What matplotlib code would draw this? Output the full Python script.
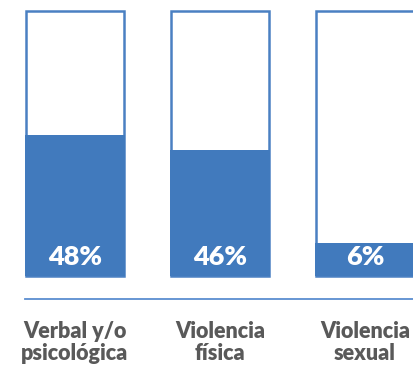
import matplotlib
matplotlib.use("Agg")
import matplotlib.pyplot as plt

categories = ["Verbal y/o\npsicológica", "Violencia\nfísica", "Violencia\nsexual"]
values = [48, 46, 6]            # labelled percentages
fill_heights = [53.2, 47.5, 12.5]  # drawn fill height (box = 100)

W, H = 414, 367
fig = plt.figure(figsize=(W / 100, H / 100), dpi=100)
bottom_px, top_px = 276, 11
ax = fig.add_axes([0, (H - bottom_px) / H, 1, (bottom_px - top_px) / H])
step = 145
c0 = 75
ax.set_xlim(-c0 / step, (W - c0) / step)
ax.set_ylim(0, 100)
ax.axis("off")

fill_col = "#417ABD"
edge_col = "#4A80C2"
bw = 100 / step
x = list(range(len(categories)))

ax.bar(x, [100] * len(x), width=bw - 2 / step, color="white", edgecolor=edge_col,
       linewidth=1.8, clip_on=False)
ax.bar(x, fill_heights, width=bw, color=fill_col, edgecolor="none", clip_on=False, zorder=3)

for xi, v in zip(x, values):
    ax.text(xi, 7.3, f"{v}%", ha="center", va="center", color="white",
            fontsize=19.5, fontweight="heavy", family="Lato", zorder=4)

# separator line
line_y = 1 - 299 / H
fig.add_artist(plt.Line2D([25 / W, 1], [line_y, line_y], color="#5A8ED0", linewidth=1.3))

for xi, cat in zip(x, categories):
    px = (c0 + xi * step) / W
    fig.text(px, 1 - 342.5 / H, cat, ha="center", va="center", color="#595959",
             fontsize=15.5, fontweight="heavy", family="Lato", linespacing=1.1)

fig.savefig("out.png", dpi=100)
